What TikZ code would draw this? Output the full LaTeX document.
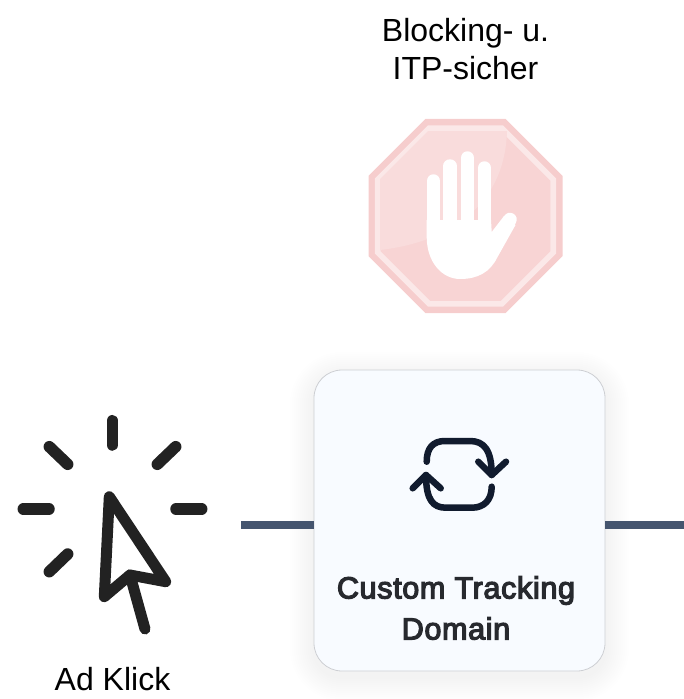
\documentclass[tikz,border=0pt]{standalone}
\usepackage{fontspec}
\setmainfont{Liberation Sans}
\newfontfamily\cardfont[FakeBold=4,LetterSpace=2.2]{Liberation Sans}
\usetikzlibrary{shapes.geometric}
\definecolor{linkblue}{HTML}{45556F}
\definecolor{cardfill}{HTML}{F8FBFF}
\definecolor{cardedge}{HTML}{CDCFD3}
\definecolor{cardtext}{HTML}{27292E}
\definecolor{syncdark}{HTML}{111B2E}
\definecolor{cursordark}{HTML}{222222}
\definecolor{stopouter}{HTML}{F6CDCD}
\definecolor{stopband}{HTML}{FBE8E8}
\definecolor{stopinner}{HTML}{F8D4D4}
\definecolor{stopsheen}{HTML}{F9DCDC}

\begin{document}
\begin{tikzpicture}[
		x=1pt,y=-1pt,
		label/.style={align=center,inner sep=0pt,font=\fontsize{32}{38}\selectfont},
		cardlabel/.style={align=center,inner sep=0pt,text=cardtext,font=\fontsize{30.5}{41}\cardfont},
		card/.style={rectangle,rounded corners=28pt,inner sep=0pt,minimum width=291pt,minimum height=301pt},
		octagon/.style={regular polygon,regular polygon sides=8,inner sep=0pt},
		link/.style={line width=8pt,color=linkblue},
		ray/.style={line width=11.5pt,line cap=round,color=cursordark},
		sync/.style={line width=6.5pt,line cap=round,line join=round,color=syncdark},
		finger/.style={line width=13.5pt,line cap=round,color=white},
	]
	\useasboundingbox (0,0) rectangle (684,699);
	% labels
	\node[label] (blocking) at (465.5,49) {Blocking- u.\\ITP-sicher};
	\node[label] (adklick) at (112.5,679) {Ad Klick};

	% stop sign
	\node[octagon,fill=stopouter,minimum size=210pt] (stopsign) at (465.5,216) {};
	\node[octagon,fill=stopband,minimum size=196pt] (stopring) at (465.5,216) {};
	\node[octagon,fill=stopinner,minimum size=184pt] (stopface) at (465.5,216) {};
	\fill[stopsheen] (507,131) -- (428,131) -- (380,179) -- (380,250)
		.. controls (450,242) and (505,205) .. (507,131) -- cycle;
	\foreach \x/\y in {433.4/181,450/166,467.4/158,484.4/168}
		\draw[finger] (\x,\y) -- (\x,225);
	\draw[finger] (510,219.5) -- (508,223);
	\fill[white] (426.7,220) -- (426.7,237)
		.. controls (426.7,262) and (442,279) .. (460,279)
		.. controls (478,279) and (490,272) .. (497,258)
		-- (515.5,225) -- (504,216) -- (491.7,232) -- (491,220) -- cycle;

	% cursor
	\foreach \xa/\ya/\xb/\yb in {
			112.3/420.7/112.3/445,
			49.3/446.7/67.7/464.3,
			175.7/446.7/157.3/464.3,
			23.3/509/49/509,
			176/509/201.7/509,
			67.7/554/49.3/571.7}
		\draw[ray] (\xa,\ya) -- (\xb,\yb);
	\draw[ray,line width=11pt,line join=round] (109.3,496.7) -- (165.7,581.7) -- (130,575) -- (104.3,596.7) -- cycle;
	\draw[ray,line width=11pt] (130,575) -- (145,629);

	% card with soft shadow
	\foreach \s in {2,4,...,24}
		\node[card,fill=black,fill opacity=0.004,rounded corners=28pt+\s*1pt,minimum width=291pt+2*\s*1pt,minimum height=301pt+2*\s*1pt] at (459.5,526.5) {};
	\node[card,fill=cardfill,draw=cardedge,line width=0.8pt] (card) at (459.5,520.5) {};
	\coordinate (linkin) at (241,525);
	\coordinate (linkout) at (684,525);
	\draw[link] (linkin) -- (linkin -| card.west);
	\draw[link] (linkin -| card.east) -- (linkout);

	% sync icon
	\draw[sync] (426.7,461.7) .. controls (426.7,448) and (433,441) .. (445,441)
		-- (470,441) .. controls (484,441) and (491.7,450) .. (491.7,475);
	\draw[sync] (478.3,461.7) -- (491.7,475) -- (506,461.7);
	\draw[sync] (491.7,486.7) .. controls (491.7,500) and (484,507.7) .. (472,507.7)
		-- (446,507.7) .. controls (433,507.7) and (426,500) .. (426,475);
	\draw[sync] (412.7,488.3) -- (426,475) -- (440.7,488.3);
	\node[cardlabel] (domain) at (456,608) {Custom Tracking\\Domain};
\end{tikzpicture}
\end{document}
